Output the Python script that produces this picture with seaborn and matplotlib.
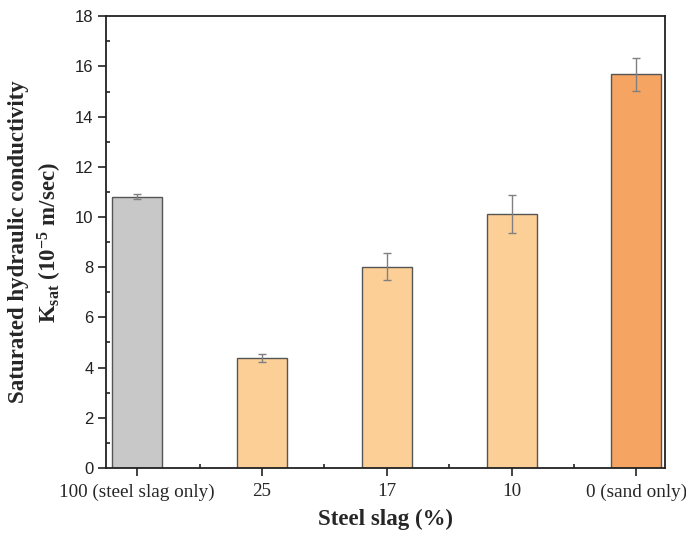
import numpy as np
import pandas as pd
import matplotlib
matplotlib.use("Agg")
import matplotlib.pyplot as plt
from matplotlib.ticker import MultipleLocator
import seaborn as sns

categories = ["100 (steel slag only)", "25", "17", "10", "0 (sand only)"]
values = [10.8, 4.38, 8.02, 10.12, 15.68]
errors = [0.10, 0.17, 0.55, 0.75, 0.66]
colors = ["#c8c8c8", "#fccf96", "#fccf96", "#fccf96", "#f5a462"]

sns.set_theme(style="white")
plt.rcParams["font.family"] = ["Liberation Sans", "DejaVu Sans"]
plt.rcParams["mathtext.fontset"] = "custom"
plt.rcParams["mathtext.rm"] = "Liberation Serif:bold"
plt.rcParams["mathtext.it"] = "Liberation Serif:bold"
plt.rcParams["mathtext.bf"] = "Liberation Serif:bold"

df = pd.DataFrame({"cat": categories, "val": values})

fig = plt.figure(figsize=(6.86, 5.41), dpi=100)
ax = fig.add_axes([0.1545, 0.135, 0.815, 0.835])

sns.barplot(data=df, x="cat", y="val", hue="cat", palette=colors, legend=False,
            width=0.4, edgecolor="#555555", linewidth=1.0, ax=ax, errorbar=None,
            saturation=1)
ax.errorbar(np.arange(len(categories)), values, yerr=errors, fmt="none",
            ecolor="#808080", elinewidth=1.0, capsize=3, capthick=1.0)

ax.set_ylim(0, 18)
ax.set_xlim(-0.25, 4.23)
ax.yaxis.set_major_locator(MultipleLocator(2))
ax.yaxis.set_minor_locator(MultipleLocator(1))
ax.set_xticks(np.arange(len(categories)))
ax.set_xticks(np.arange(len(categories) - 1) + 0.5, minor=True)
ax.set_xticklabels(categories, fontfamily="Liberation Serif", fontsize=13.8)
for lbl in ax.get_yticklabels():
    lbl.set_fontsize(12)
    lbl.set_color("#222222")

ax.tick_params(axis="both", which="major", direction="out", length=6, width=1.2,
               color="#222222", left=True, bottom=True)
ax.tick_params(axis="both", which="minor", direction="in", length=3, width=1.2,
               color="#222222", left=True, bottom=True)
ax.tick_params(axis="y", labelsize=12, pad=3)
ax.tick_params(axis="x", pad=5)

for sp in ax.spines.values():
    sp.set_visible(True)
    sp.set_color("#222222")
    sp.set_linewidth(1.3)

ax.set_xlabel("Steel slag (%)", fontfamily="Liberation Serif", fontweight="bold",
              fontsize=16.5, labelpad=6)
ax.set_ylabel("Saturated hydraulic conductivity\nK$_{\\mathrm{sat}}$ (10$^{\\mathrm{-5}}$ m/sec)",
              fontfamily="Liberation Serif", fontweight="bold", fontsize=16.5,
              labelpad=8, linespacing=1.3)

fig.savefig("out.png", dpi=100)
